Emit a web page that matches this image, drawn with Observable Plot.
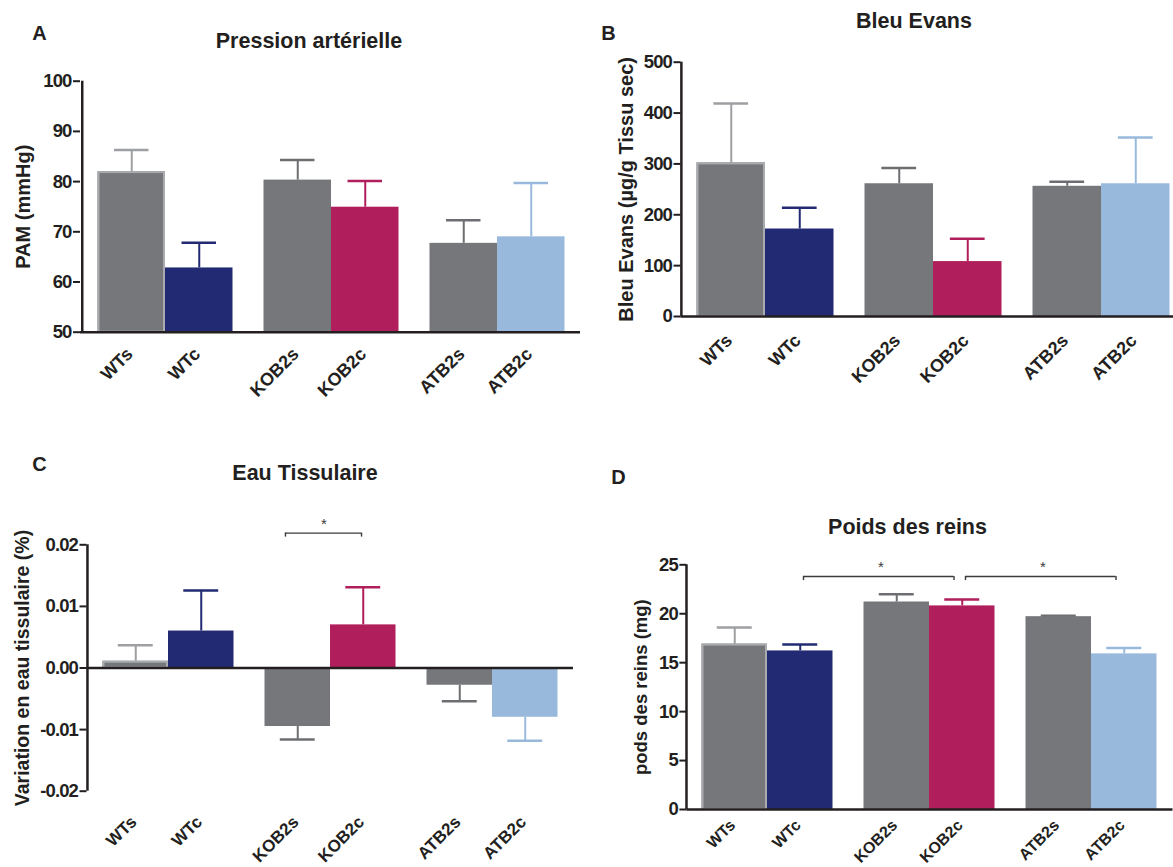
<!DOCTYPE html>
<html><head><meta charset="utf-8">
<script src="https://cdn.jsdelivr.net/npm/d3@7"></script>
<script src="https://cdn.jsdelivr.net/npm/@observablehq/plot@0.6"></script>
<style>
html,body{margin:0;padding:0;background:#fff}
body{width:1173px;height:867px;position:relative;overflow:hidden;font-family:"Liberation Sans",Arial,sans-serif;color:#231f20}
.t{position:absolute;font-weight:bold;white-space:nowrap;line-height:1;transform:translate(-50%,-50%)}
svg [aria-label^="y-axis"] line, svg [aria-label^="y-axis"] path{stroke-width:2px}
svg [aria-label^="y-axis"] text{letter-spacing:-0.9px}
svg [aria-label="xlab"] text{letter-spacing:-0.6px}
</style></head><body>
<script>
// ---- data ----
const groups = ["WTs","WTc","KOB2s","KOB2c","ATB2s","ATB2c"];

const pamMean = [82.0, 62.8, 80.3, 74.9, 67.7, 69.0];
const pamSem  = [4.3, 5.0, 4.0, 5.2, 4.6, 10.7];
const pamTicks = [50, 60, 70, 80, 90, 100];

const evansMean = [302, 172, 261, 108, 256, 261];
const evansSem  = [117, 42, 31, 45, 9, 91];
const evansTicks = [0, 100, 200, 300, 400, 500];

const waterMean = [0.0011, 0.0060, -0.0095, 0.0070, -0.0028, -0.0080];
const waterSem  = [0.0026, 0.0066, 0.0021, 0.0061, 0.0026, 0.0038];
const waterTicks = [-0.02, -0.01, 0, 0.01, 0.02];
const waterSig = [{from: "KOB2s", to: "KOB2c", mid: "KOB2s", y: 0.0219}];

const kidneyMean = [16.9, 16.2, 21.2, 20.8, 19.7, 15.9];
const kidneySem  = [1.7, 0.65, 0.8, 0.65, 0.1, 0.6];
const kidneyTicks = [0, 5, 10, 15, 20, 25];
const kidneySig = [
  {from: "WTc", to: "KOB2c", mid: "KOB2s", y: 23.8},
  {from: "KOB2c", to: "ATB2c", mid: "ATB2s", y: 23.8}
];

// ---- styles ----
const ink = "#231f20";
const barColor = {WTs:"#76777b", WTc:"#212a72", KOB2s:"#76777b", KOB2c:"#b01e5b", ATB2s:"#76777b", ATB2c:"#98b9dc"};
const errColor = {WTs:"#9d9fa2", WTc:"#212a72", KOB2s:"#6d6e71", KOB2c:"#b01e5b", ATB2s:"#6d6e71", ATB2c:"#98b9dc"};
const family = '"Liberation Sans",Arial,sans-serif';
const tickSize = 18.5;

function panel(cfg){
  const rows = groups.map((name, i) => ({name, s: i % 2 === 0, mean: cfg.means[i],
    end: cfg.means[i] + Math.sign(cfg.means[i]) * cfg.sems[i], base: cfg.domain[0] > 0 ? cfg.domain[0] : 0}));
  const S = rows.filter(d => d.s), C = rows.filter(d => !d.s);
  const w = (cfg.range[1] - cfg.range[0]) / groups.length, g = 15.5, cap = 17.5;
  const base = rows[0].base;
  const xs = cfg.xLabelSize;
  const marks = [
    Plot.ruleX(S, {x: "name", y1: "mean", y2: "end", stroke: d => errColor[d.name], strokeWidth: 2, dx: g / 2}),
    Plot.ruleX(C, {x: "name", y1: "mean", y2: "end", stroke: d => errColor[d.name], strokeWidth: 2, dx: -g / 2}),
    Plot.tickY(S, {x: "name", y: "end", stroke: d => errColor[d.name], strokeWidth: 2.5, insetLeft: (w + g) / 2 - cap, insetRight: (w - g) / 2 - cap}),
    Plot.tickY(C, {x: "name", y: "end", stroke: d => errColor[d.name], strokeWidth: 2.5, insetLeft: (w - g) / 2 - cap, insetRight: (w + g) / 2 - cap}),
    Plot.barY(S, {x: "name", y1: "base", y2: "mean", fill: d => barColor[d.name], insetLeft: g}),
    Plot.barY(C, {x: "name", y1: "base", y2: "mean", fill: d => barColor[d.name], insetRight: g}),
    Plot.barY(S.filter(d => d.name === "WTs"), {x: "name", y1: "base", y2: "mean", fill: "none", stroke: "#a9abae", strokeWidth: 2, insetLeft: g + 1, insetRight: 1, insetTop: 1}),
    Plot.ruleY([base], {stroke: ink, strokeWidth: 2.6}),
    Plot.ruleX([{x: groups[0], y1: cfg.domain[0], y2: cfg.domain[1]}], {x: "x", y1: "y1", y2: "y2", dx: cfg.marginLeft - (cfg.range[0] + w / 2), stroke: ink, strokeWidth: 2.5}),
    Plot.text(S, {x: "name", text: "name", frameAnchor: "bottom", rotate: -45, textAnchor: "end", lineAnchor: "middle", ariaLabel: "xlab",
      dx: g / 2 - 2, dy: cfg.labelDy, fontSize: xs, fontWeight: "bold", fill: ink}),
    Plot.text(C, {x: "name", text: "name", frameAnchor: "bottom", rotate: -45, textAnchor: "end", lineAnchor: "middle", ariaLabel: "xlab",
      dx: -g / 2 - 2, dy: cfg.labelDy, fontSize: xs, fontWeight: "bold", fill: ink}),
    Plot.text([cfg.ylabel], {frameAnchor: "left", text: d => d, rotate: -90, textAnchor: "middle", lineAnchor: "middle", ariaLabel: "ylabel",
      dx: cfg.ylabelDx, fontSize: cfg.ylabelSize, fontWeight: "bold", fill: ink})
  ];
  if (cfg.sig) {
    const bs = "#3a3a3c";
    marks.push(
      Plot.ruleY(cfg.sig, {x1: "from", x2: "to", y: "y", insetLeft: cfg.bL, insetRight: cfg.bR, stroke: bs, strokeWidth: 1.4}),
      Plot.ruleX(cfg.sig, {x: "from", y1: "y", y2: "y", insetBottom: -4, dx: cfg.bL - w / 2, stroke: bs, strokeWidth: 1.4}),
      Plot.ruleX(cfg.sig, {x: "to", y1: "y", y2: "y", insetBottom: -4, dx: w / 2 - cfg.bR, stroke: bs, strokeWidth: 1.4}),
      Plot.text(cfg.sig, {x: "mid", y: "y", text: () => "*", dx: cfg.starDx, dy: -9, fontSize: 15, fontWeight: "normal", fill: bs})
    );
  }
  const svg = Plot.plot({
    width: cfg.width, height: cfg.height,
    marginLeft: cfg.marginLeft, marginRight: cfg.marginRight, marginTop: cfg.marginTop, marginBottom: cfg.marginBottom,
    style: {fontFamily: family, fontSize: tickSize + "px", fontWeight: "bold", color: ink, background: "transparent", overflow: "visible"},
    x: {type: "band", domain: groups, range: cfg.range, padding: 0, axis: null},
    y: {domain: cfg.domain, ticks: cfg.ticks, tickFormat: cfg.fmt, tickSize: 7, tickPadding: 2, label: null},
    color: {type: "identity"},
    marks
  });
  svg.style.position = "absolute";
  svg.style.left = cfg.left + "px";
  svg.style.top = cfg.top + "px";
  document.body.appendChild(svg);
}

panel({left: 0, top: 0, width: 590, height: 420, marginLeft: 80, marginRight: 10, marginTop: 80.7, marginBottom: 88.3,
  range: [80, 581], domain: [50, 100], ticks: pamTicks, fmt: d => String(d), means: pamMean, sems: pamSem,
  ylabel: "PAM (mmHg)", ylabelDx: -57, ylabelSize: 20, labelDy: 19, xLabelSize: 18});

panel({left: 590, top: 0, width: 583, height: 420, marginLeft: 90.5, marginRight: 0, marginTop: 61.7, marginBottom: 104,
  range: [90.5, 596], domain: [0, 500], ticks: evansTicks, fmt: d => String(d), means: evansMean, sems: evansSem,
  ylabel: "Bleu Evans (µg/g Tissu sec)", ylabelDx: -54, ylabelSize: 20, labelDy: 21, xLabelSize: 18});

panel({left: 0, top: 440, width: 590, height: 427, marginLeft: 86.5, marginRight: 17, marginTop: 104.3, marginBottom: 76.3,
  range: [86.5, 573], domain: [-0.02, 0.02], ticks: waterTicks, fmt: d => d.toFixed(2), means: waterMean, sems: waterSem,
  ylabel: "Variation en eau tissulaire (%)", ylabelDx: -64, ylabelSize: 19.5, labelDy: 28, xLabelSize: 17,
  sig: waterSig, bL: 36, bR: 50, starDx: 34});

panel({left: 590, top: 460, width: 583, height: 407, marginLeft: 96.4, marginRight: 0.5, marginTop: 104.3, marginBottom: 58,
  range: [96.4, 582.5], domain: [0, 25], ticks: kidneyTicks, fmt: d => String(d), means: kidneyMean, sems: kidneySem,
  ylabel: "pods des reins (mg)", ylabelDx: -46, ylabelSize: 18.5, labelDy: 13, xLabelSize: 16,
  sig: kidneySig, bL: 36, bR: 56.5, starDx: -8});

// titles and panel letters
const texts = [
  ["A", 39.5, 32.5, 20], ["Pression artérielle", 309, 41.5, 21.5],
  ["B", 608.5, 32.5, 20], ["Bleu Evans", 914, 21.7, 21.5],
  ["C", 39.5, 463.5, 20], ["Eau Tissulaire", 305, 474, 21.5],
  ["D", 618.5, 476.5, 20], ["Poids des reins", 907.5, 527.5, 21.5]
];
for (const [s, x, y, fs] of texts) {
  const d = document.createElement("div");
  d.className = "t"; d.textContent = s;
  d.style.left = x + "px"; d.style.top = y + "px"; d.style.fontSize = fs + "px";
  document.body.appendChild(d);
}
</script>
</body></html>
